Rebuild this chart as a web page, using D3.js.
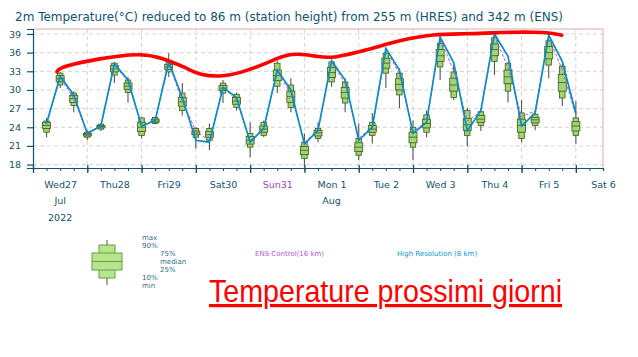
<!DOCTYPE html>
<html><head><meta charset="utf-8">
<script src="https://cdn.jsdelivr.net/npm/d3@7"></script>
<style>
html,body{margin:0;padding:0;background:#fff;}
svg{display:block;font-family:"DejaVu Sans",sans-serif;}
</style></head>
<body><svg id="c" width="638" height="357"></svg>
<script>
// ---- data ----
const startUTC = Date.UTC(2022, 6, 27, 0);
const stepHours = [6,12,18,24,30,36,42,48,54,60,66,72,78,84,90,96,102,108,114,120,126,132,138,144,150,156,162,168,174,180,186,192,198,204,210,216,222,228,234,240];
const ensMin = [22.4,30.3,26.4,21.9,23.4,31.1,28.0,22.2,24.5,32.1,25.9,20.6,20.3,27.9,26.7,19.2,22.4,29.5,26.4,17.5,21.6,30.5,26.4,18.7,21.4,30.3,27.1,18.7,22.4,31.6,28.4,20.9,23.4,32.4,28.0,21.6,23.5,31.9,27.4,21.4];
const ensP10 = [23.2,30.8,27.5,22.4,23.7,32.4,29.6,22.7,24.6,32.9,26.7,22.4,21.9,29.5,27.2,20.8,22.7,30.6,27.2,19.0,22.2,31.3,27.9,19.5,22.7,32.7,29.2,20.8,23.2,33.7,28.8,22.7,24.3,34.6,29.8,22.2,24.3,34.0,28.7,22.7];
const ensP25 = [23.8,31.3,28.0,22.6,23.9,32.9,30.1,23.3,24.8,33.3,27.4,22.8,22.4,29.9,27.7,21.3,23.2,31.5,28.0,19.6,22.6,32.0,28.7,20.1,23.2,33.5,30.0,21.5,23.9,34.6,29.8,23.5,24.8,35.5,31.0,23.2,24.7,35.0,29.8,23.4];
const ensMed = [24.3,31.8,28.6,22.8,24.1,33.4,30.6,24.0,25.0,33.7,28.1,23.1,22.8,30.3,28.2,21.9,23.7,32.3,28.9,20.3,23.1,32.8,29.6,20.8,23.7,34.3,30.9,22.4,24.6,35.5,30.8,24.4,25.3,36.5,32.1,24.3,25.2,36.0,31.2,24.2];
const ensP75 = [24.8,32.3,29.1,23.0,24.3,33.9,31.1,24.8,25.3,34.1,28.8,23.4,23.3,30.7,28.8,22.5,24.2,33.2,29.8,20.9,23.5,33.6,30.4,21.5,24.3,35.1,31.8,23.2,25.3,36.5,31.9,25.4,25.9,37.4,33.2,25.3,25.6,37.0,32.5,24.9];
const ensP90 = [25.0,32.7,29.5,23.2,24.5,34.3,31.6,25.5,25.6,34.5,29.5,23.8,23.8,31.1,29.3,23.0,24.8,34.3,30.8,21.6,23.8,34.5,31.3,22.2,24.8,35.9,32.7,24.0,26.0,37.5,32.9,26.7,26.5,38.4,34.3,26.3,26.1,37.9,33.8,25.5];
const ensMax = [25.5,32.9,29.8,23.5,24.6,34.5,32.1,25.6,25.7,35.9,31.1,24.0,24.6,31.6,29.6,24.8,25.1,34.7,31.9,23.0,24.8,34.8,31.9,24.6,26.3,36.7,33.5,25.1,26.7,38.5,34.0,27.1,27.0,39.2,34.5,28.4,26.7,39.0,34.2,28.2];
const hres = [24.6,32.2,29.2,23.0,24.2,34.2,31.6,24.2,25.1,34.5,28.8,21.9,21.6,30.4,28.8,21.6,23.8,33.2,30.0,21.3,23.5,34.7,31.6,21.9,24.0,36.7,33.2,23.0,24.8,38.5,34.4,23.4,26.7,39.0,35.4,24.2,26.3,38.8,34.6,26.2];
const ensControl = [24.6,32.0,28.6,23.2,24.2,34.0,31.4,24.2,25.0,34.3,28.2,23.4,21.8,30.4,28.4,21.8,23.9,33.0,29.4,21.5,23.6,34.5,31.0,22.2,24.1,36.5,32.6,23.4,24.8,38.3,33.0,25.0,26.5,38.8,33.6,25.7,26.6,38.6,33.2,26.0];
// red hand-drawn overlay (hours from start, °C)
const redHours = [10.6,11.9,29.6,47.3,56.1,68.1,73.8,82.7,91.5,103.4,110.5,116.7,126.9,132.6,147.6,162.2,176.8,191.8,203.3,213.9,221,228.5,233.8];
const redTemps = [32.9,33.7,35.1,35.9,35.3,33.5,32.4,32.1,32.7,34.3,35.5,35.9,35.3,35.1,36.4,38.0,39.0,39.0,39.2,39.3,39.3,39.2,38.8];
const yTicks = [18,21,24,27,30,33,36,39];
const dayLabels = ["Wed27","Thu28","Fri29","Sat30","Sun31","Mon 1","Tue 2","Wed 3","Thu 4","Fri 5","Sat 6"];
const monthLabels = [{day:0,text:"Jul"},{day:5,text:"Aug"}];
const yearLabel = {day:0,text:"2022"};
const titleText = "2m Temperature(\u00B0C) reduced to 86 m (station height) from 255 m (HRES) and 342 m (ENS)";
const legendLabels = ["max","90%","75%","median","25%","10%","min"];

// ---- layout ----
const L = 33, R = 603, T = 29, B = 168;
const H = 3600*1000;
const svg = d3.select("#c");
const x = d3.scaleUtc().domain([new Date(startUTC), new Date(startUTC + 252*H)]).range([L, R]);
const y = d3.scaleLinear().domain([17.45, 39.8]).range([B, T]);
const tx = h => x(new Date(startUTC + h*H));

const teal = "#0d5470";

svg.append("text").attr("x", 15).attr("y", 21).attr("fill", teal)
  .attr("font-size", 11.5).attr("textLength", 548).attr("lengthAdjust", "spacingAndGlyphs").text(titleText);

// grid
const g = svg.append("g");
g.selectAll("line.hg").data(yTicks).join("line")
  .attr("x1", L).attr("x2", R).attr("y1", d => y(d)).attr("y2", d => y(d))
  .attr("stroke", "#c8c8c8").attr("stroke-dasharray", "4,3").attr("stroke-width", 0.8);
const midnights = d3.range(1, 11).map(d => d*24);
g.selectAll("line.vg").data(midnights).join("line")
  .attr("x1", d => tx(d)).attr("x2", d => tx(d)).attr("y1", T).attr("y2", B)
  .attr("stroke", "#c8c8c8").attr("stroke-dasharray", "4,3").attr("stroke-width", 0.8);

// frame
svg.append("path").attr("d", `M${L},${T}H${R}V${B}`).attr("fill", "none").attr("stroke", "#e2aaaa").attr("stroke-width", 1);

// y axis
const ya = svg.append("g").attr("transform", `translate(${L},0)`)
  .call(d3.axisLeft(y).tickValues(yTicks).tickSize(6).tickPadding(6));
ya.select(".domain").attr("stroke", teal).attr("stroke-width", 1.2);
ya.selectAll(".tick line").attr("stroke", teal).attr("stroke-width", 1.2);
ya.selectAll("text").attr("fill", teal).attr("font-size", 9.5).attr("font-family", "DejaVu Sans");

// x axis
const minor = d3.range(0, 253, 6).map(h => new Date(startUTC + h*H));
const xa1 = svg.append("g").attr("transform", `translate(0,${B})`)
  .call(d3.axisBottom(x).tickValues(minor).tickSize(3).tickFormat(""));
xa1.select(".domain").attr("stroke", teal).attr("stroke-width", 1.2);
xa1.selectAll(".tick line").attr("stroke", teal);
const major = d3.range(0, 11).map(d => new Date(startUTC + d*24*H));
const xa2 = svg.append("g").attr("transform", `translate(0,${B})`)
  .call(d3.axisBottom(x).tickValues(major).tickSize(5).tickFormat(""));
xa2.select(".domain").remove();
xa2.selectAll(".tick line").attr("stroke", teal).attr("stroke-width", 1.3).attr("y1", -3);

const noon = dayLabels.map((_, i) => new Date(startUTC + (i*24+12)*H));
const xa3 = svg.append("g").attr("transform", `translate(0,${B})`)
  .call(d3.axisBottom(x).tickValues(noon).tickSize(0).tickPadding(13)
    .tickFormat((d, i) => dayLabels[i]));
xa3.select(".domain").remove();
xa3.selectAll("text").attr("font-size", 9.5).attr("font-family", "DejaVu Sans")
  .attr("fill", (d, i) => i === 4 ? "#a63cc2" : teal);
svg.selectAll("text.month").data(monthLabels).join("text")
  .attr("x", d => tx(d.day*24+12)).attr("y", 204).attr("text-anchor", "middle")
  .attr("font-size", 9.5).attr("fill", teal).text(d => d.text);
svg.append("text").attr("x", tx(yearLabel.day*24+12)).attr("y", 221).attr("text-anchor", "middle")
  .attr("font-size", 9.5).attr("fill", teal).text(yearLabel.text);

// boxes
const boxes = stepHours.map((h, i) => ({h, mn: ensMin[i], p10: ensP10[i], p25: ensP25[i], md: ensMed[i], p75: ensP75[i], p90: ensP90[i], mx: ensMax[i]}));
const fill = "#a3d472", stroke = "#3a5a1e";
const bg = svg.append("g");
const wideW = 8, narW = 5.5;
const bx = bg.selectAll("g").data(boxes).join("g").attr("transform", d => `translate(${tx(d.h)},0)`);
bx.append("line").attr("y1", d => y(d.mn)).attr("y2", d => y(d.mx)).attr("stroke", "#555").attr("stroke-width", 1.1);
bx.append("rect").attr("x", -narW/2).attr("width", narW).attr("y", d => y(d.p90)).attr("height", d => y(d.p10) - y(d.p90))
  .attr("fill", fill).attr("stroke", stroke).attr("stroke-width", 0.8);
bx.append("rect").attr("x", -wideW/2).attr("width", wideW).attr("y", d => y(d.p75)).attr("height", d => y(d.p25) - y(d.p75))
  .attr("fill", fill).attr("stroke", stroke).attr("stroke-width", 0.8);
bx.append("line").attr("x1", -wideW/2).attr("x2", wideW/2).attr("y1", d => y(d.md)).attr("y2", d => y(d.md))
  .attr("stroke", stroke).attr("stroke-width", 0.8);

// lines
const line = d3.line().x(d => tx(d[0])).y(d => y(d[1]));
svg.append("path").datum(stepHours.map((h, i) => [h, ensControl[i]])).attr("d", line)
  .attr("fill", "none").attr("stroke", "#b15ad6").attr("stroke-width", 1).attr("stroke-dasharray", "3,2");
svg.append("path").datum(stepHours.map((h, i) => [h, hres[i]])).attr("d", line)
  .attr("fill", "none").attr("stroke", "#0a8cc6").attr("stroke-width", 1.7);

// red overlay
const redLine = d3.line().x(d => tx(d[0])).y(d => y(d[1])).curve(d3.curveBasis);
svg.append("path").datum(redHours.map((h, i) => [h, redTemps[i]])).attr("d", redLine)
  .attr("fill", "none").attr("stroke", "#ff0000").attr("stroke-width", 3.6).attr("stroke-linecap", "round");

// legend
const lg = svg.append("g");
const lx = 107;
lg.append("line").attr("x1", lx).attr("x2", lx).attr("y1", 240).attr("y2", 285).attr("stroke", "#555");
lg.append("rect").attr("x", lx-8).attr("width", 16).attr("y", 245).attr("height", 33).attr("fill", "#b6e68c").attr("stroke", "#6c9a46");
lg.append("rect").attr("x", lx-15).attr("width", 30).attr("y", 253).attr("height", 17).attr("fill", "#b6e68c").attr("stroke", "#6c9a46");
lg.append("line").attr("x1", lx-15).attr("x2", lx+15).attr("y1", 261.5).attr("y2", 261.5).attr("stroke", "#6c9a46");
const lpos = [[142,237],[142,245],[160,253],[160,261],[160,269],[142,277],[142,285]];
lg.selectAll("text").data(legendLabels).join("text")
  .attr("x", (d, i) => lpos[i][0]).attr("y", (d, i) => lpos[i][1] + 2.5)
  .attr("font-size", 7).attr("fill", "#2e6e84").text(d => d);
svg.append("text").attr("x", 255).attr("y", 256).attr("font-size", 7).attr("fill", "#b15ad6").text("ENS Control(16 km)");
svg.append("text").attr("x", 397).attr("y", 256).attr("font-size", 7).attr("fill", "#0a9ad0").text("High Resolution (8 km)");

// big red caption
svg.append("text").attr("x", 209).attr("y", 302)
  .attr("font-family", "'Liberation Sans Narrow','Liberation Sans',Arial,sans-serif")
  .attr("font-size", 32).attr("fill", "#ff0000")
  .attr("text-decoration", "underline")
  .attr("textLength", 353).attr("lengthAdjust", "spacingAndGlyphs")
  .text("Temperature prossimi giorni");
</script></body></html>
